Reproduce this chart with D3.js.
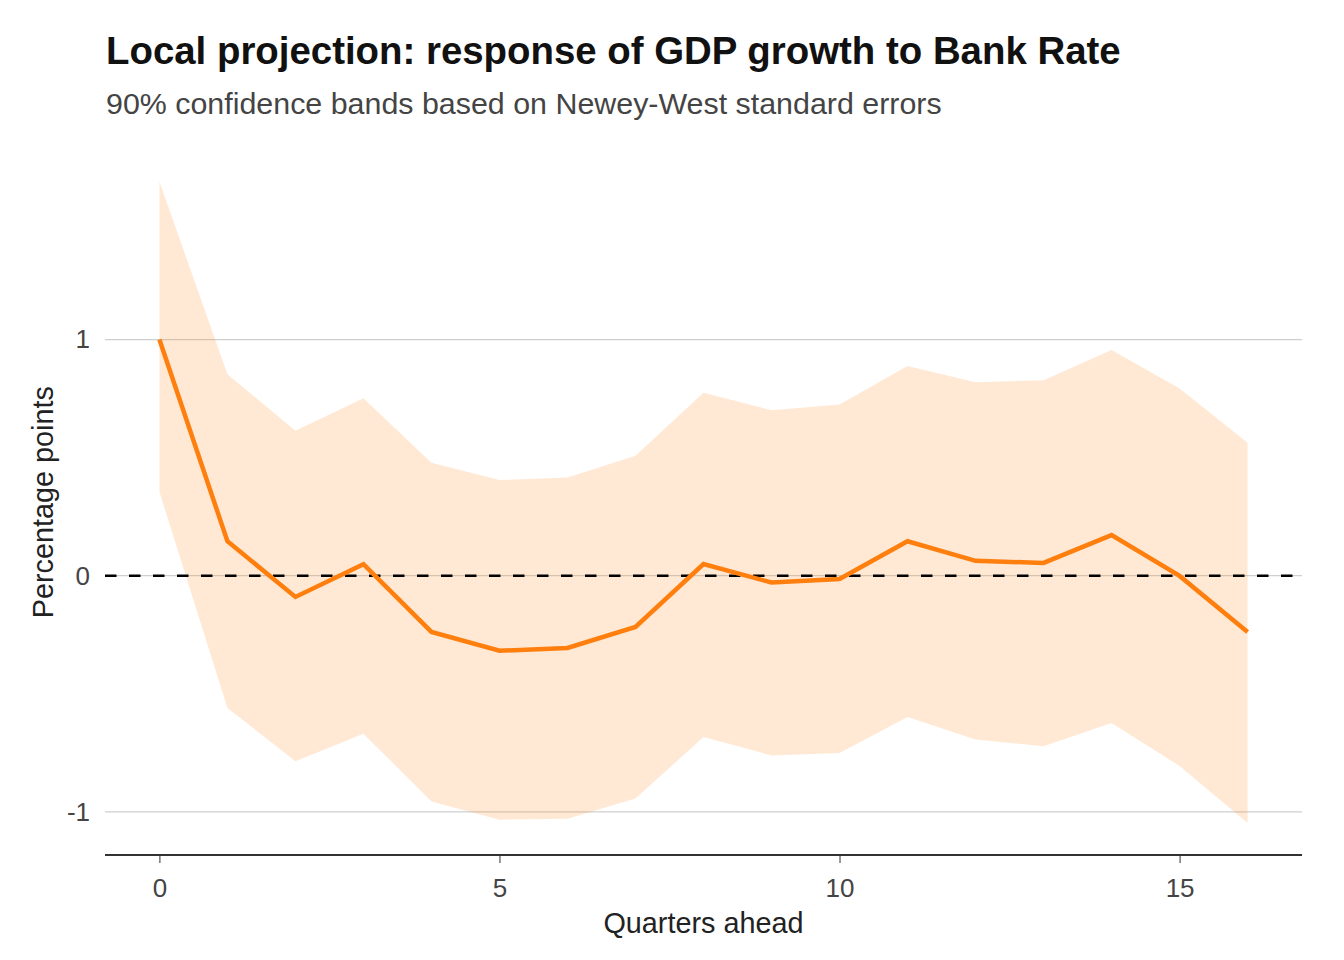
<!DOCTYPE html>
<html>
<head>
<meta charset="utf-8">
<script src="https://cdn.jsdelivr.net/npm/d3@7"></script>
<style>
  html, body { margin: 0; padding: 0; background: #fff; }
  svg { display: block; font-family: "Liberation Sans", Arial, Helvetica, sans-serif; }
</style>
</head>
<body>
<svg id="chart" width="1344" height="960"></svg>
<script>
// ---- Data ----
const horizons = [0,1,2,3,4,5,6,7,8,9,10,11,12,13,14,15,16];
const estimate = [1.000, 0.146, -0.090, 0.049, -0.238, -0.318, -0.306, -0.217, 0.049, -0.029, -0.014, 0.146, 0.063, 0.054, 0.172, -0.001, -0.238];
const upper    = [1.669, 0.853, 0.614, 0.751, 0.478, 0.405, 0.416, 0.508, 0.775, 0.701, 0.725, 0.888, 0.819, 0.828, 0.956, 0.793, 0.563];
const lower    = [0.355, -0.560, -0.786, -0.669, -0.956, -1.033, -1.029, -0.944, -0.683, -0.761, -0.751, -0.598, -0.694, -0.722, -0.624, -0.806, -1.047];
const xTicks = [0, 5, 10, 15];
const yTicks = [-1, 0, 1];
const titleText = "Local projection: response of GDP growth to Bank Rate";
const subtitleText = "90% confidence bands based on Newey-West standard errors";
const xTitle = "Quarters ahead";
const yTitle = "Percentage points";

const data = horizons.map((h, i) => ({h, est: estimate[i], lo: lower[i], hi: upper[i]}));

// ---- Layout ----
const panel = {left: 105, right: 1302, top: 149.5, bottom: 855};
const svg = d3.select("#chart");
const FONT = '"Liberation Sans", Arial, Helvetica, sans-serif';

const xExt = d3.extent(horizons);
const xPad = (xExt[1] - xExt[0]) * 0.05;
const x = d3.scaleLinear().domain([xExt[0] - xPad, xExt[1] + xPad]).range([panel.left, panel.right]);

const yMin = d3.min(lower), yMax = d3.max(upper);
const yPad = (yMax - yMin) * 0.05;
const y = d3.scaleLinear().domain([yMin - yPad, yMax + yPad]).range([panel.bottom, panel.top]);

// gridlines
svg.append("g").selectAll("line").data(yTicks).join("line")
  .attr("x1", panel.left).attr("x2", panel.right)
  .attr("y1", d => y(d)).attr("y2", d => y(d))
  .attr("stroke", "#cfcfcf").attr("stroke-width", 1.3);

// band
const area = d3.area().x(d => x(d.h)).y0(d => y(d.lo)).y1(d => y(d.hi));
svg.append("path").datum(data).attr("d", area)
  .attr("fill", "#fd8f2f").attr("fill-opacity", 0.2);

// zero line dashed
svg.append("line")
  .attr("x1", panel.left).attr("x2", panel.right)
  .attr("y1", y(0)).attr("y2", y(0))
  .attr("stroke", "#000").attr("stroke-width", 2.6)
  .attr("stroke-dasharray", "11.5,12.5");

// estimate line
const line = d3.line().x(d => x(d.h)).y(d => y(d.est));
svg.append("path").datum(data).attr("d", line)
  .attr("fill", "none").attr("stroke", "#ff7f0e").attr("stroke-width", 4.5)
  .attr("stroke-linejoin", "miter");

// x axis
const xAxis = d3.axisBottom(x).tickValues(xTicks).tickSize(8).tickPadding(16).tickFormat(d => String(d));
const gx = svg.append("g").attr("transform", `translate(0,${panel.bottom})`).call(xAxis);
gx.attr("font-size", null).attr("font-family", null);
gx.select(".domain").attr("stroke", "#333").attr("stroke-width", 1.8)
  .attr("d", `M${panel.left},0H${panel.right}`);
gx.selectAll(".tick line").attr("stroke", "#333").attr("stroke-width", 1);
gx.selectAll(".tick text").attr("fill", "#444").style("font-size", "26px").style("font-family", FONT);

// y axis labels (no axis line, no ticks)
const yAxis = d3.axisLeft(y).tickValues(yTicks).tickSize(0).tickPadding(15).tickFormat(d => String(d));
const gy = svg.append("g").attr("transform", `translate(${panel.left},0)`).call(yAxis);
gy.attr("font-size", null).attr("font-family", null);
gy.select(".domain").remove();
gy.selectAll(".tick text").attr("fill", "#444").style("font-size", "26px").style("font-family", FONT);

// titles
svg.append("text").attr("x", 106).attr("y", 64)
  .attr("font-weight", "bold").attr("font-size", 38.4).attr("fill", "#111")
  .text(titleText);
svg.append("text").attr("x", 106).attr("y", 114)
  .attr("font-size", 30.4).attr("fill", "#444")
  .text(subtitleText);

svg.append("text").attr("x", (panel.left + panel.right) / 2).attr("y", 933)
  .attr("text-anchor", "middle").attr("font-size", 28.8).attr("fill", "#222")
  .text(xTitle);
svg.append("text")
  .attr("transform", `translate(53,${(panel.top + panel.bottom) / 2}) rotate(-90)`)
  .attr("text-anchor", "middle").attr("font-size", 28.8).attr("fill", "#222")
  .text(yTitle);
</script>
</body>
</html>
